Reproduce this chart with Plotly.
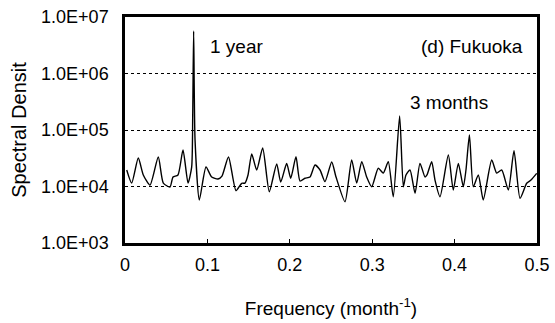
import plotly.graph_objects as go

freq = [0.0021, 0.0081, 0.0161, 0.0222, 0.0303, 0.0404, 0.0465, 0.0546, 0.0583, 0.0643,
        0.0704, 0.0765, 0.0809, 0.0822, 0.0833, 0.0850, 0.0902, 0.0983, 0.1052, 0.1129,
        0.1177, 0.1256, 0.1347, 0.1416, 0.1456, 0.1493, 0.1538, 0.1598, 0.1671, 0.1751,
        0.1841, 0.1890, 0.1962, 0.2011, 0.2075, 0.2124, 0.2184, 0.2245, 0.2306, 0.2367,
        0.2427, 0.2509, 0.2561, 0.2670, 0.2751, 0.2812, 0.2873, 0.2933, 0.2994, 0.3074,
        0.3135, 0.3195, 0.3256, 0.3333, 0.3378, 0.3410, 0.3459, 0.3520, 0.3580, 0.3641,
        0.3665, 0.3722, 0.3762, 0.3823, 0.3924, 0.3984, 0.4045, 0.4106, 0.4138, 0.4180,
        0.4227, 0.4288, 0.4348, 0.4450, 0.4511, 0.4572, 0.4652, 0.4721, 0.4794, 0.4875,
        0.4927, 0.4996]
density = [19600, 11500, 31900, 16000, 10600, 33300, 11500, 9800, 14700, 16000,
           44300, 11500, 22100, 184000, 5650000, 66500, 5770, 22100, 14700, 13600,
           15300, 33300, 8430, 11400, 11500, 16000, 37600, 19600, 48000, 8090,
           25000, 12000, 25500, 14000, 33700, 12500, 14000, 14700, 24000, 19600,
           12200, 27200, 14700, 5380, 29400, 11500, 27500, 14700, 9900, 21000,
           17300, 27500, 6600, 177000, 9900, 16000, 19600, 7580, 25700, 14700,
           16000, 27500, 13000, 6600, 36100, 8670, 25700, 9900, 19600, 81600,
           9900, 16000, 5770, 29400, 17300, 19600, 8670, 43000, 6180, 11400,
           13000, 17100]

ytick_vals = [1e3, 1e4, 1e5, 1e6, 1e7]
ytick_text = ["1.0E+03", "1.0E+04", "1.0E+05", "1.0E+06", "1.0E+07"]
xtick_vals = [0, 0.1, 0.2, 0.3, 0.4, 0.5]
xtick_text = ["0", "0.1", "0.2", "0.3", "0.4", "0.5"]

FONT = "Liberation Sans, Arial, sans-serif"

fig = go.Figure()
fig.add_trace(go.Scatter(x=freq, y=density, mode="lines",
                         line=dict(color="black", width=1.4, shape="spline", smoothing=0.6),
                         showlegend=False))

fig.update_layout(
    width=555, height=323,
    margin=dict(l=125, r=18, t=17, b=80),
    paper_bgcolor="white", plot_bgcolor="white",
    font=dict(family=FONT, size=18, color="black"),
    xaxis=dict(range=[0, 0.5], tickvals=xtick_vals, ticktext=xtick_text,
               showline=True, linecolor="black", linewidth=2.5, mirror=True,
               ticks="inside", ticklen=4, tickcolor="black", showgrid=False,
               zeroline=False, tickfont=dict(size=18), ticklabelstandoff=4,
               automargin=False,
               title=dict(text="Frequency (month<sup>-1</sup>)", font=dict(size=19), standoff=28)),
    yaxis=dict(type="log", range=[3, 7], tickvals=ytick_vals, ticktext=ytick_text,
               showline=True, linecolor="black", linewidth=2.5, mirror=True,
               ticks="inside", ticklen=3, tickcolor="black",
               showgrid=True, gridcolor="black", gridwidth=1, griddash="dot",
               zeroline=False, tickfont=dict(size=18), ticklabelstandoff=10,
               automargin=False,
               title=dict(text="Spectral Densit", font=dict(size=20), standoff=10)),
    annotations=[
        dict(x=0.1007, y=6.47, xref="x", yref="y", text="1 year", showarrow=False,
             xanchor="left", yanchor="middle", font=dict(size=19)),
        dict(x=0.4854, y=6.47, xref="x", yref="y", text="(d) Fukuoka", showarrow=False,
             xanchor="right", yanchor="middle", font=dict(size=19)),
        dict(x=0.3440, y=5.48, xref="x", yref="y", text="3 months", showarrow=False,
             xanchor="left", yanchor="middle", font=dict(size=19)),
    ],
)

fig.write_html("out.html")
